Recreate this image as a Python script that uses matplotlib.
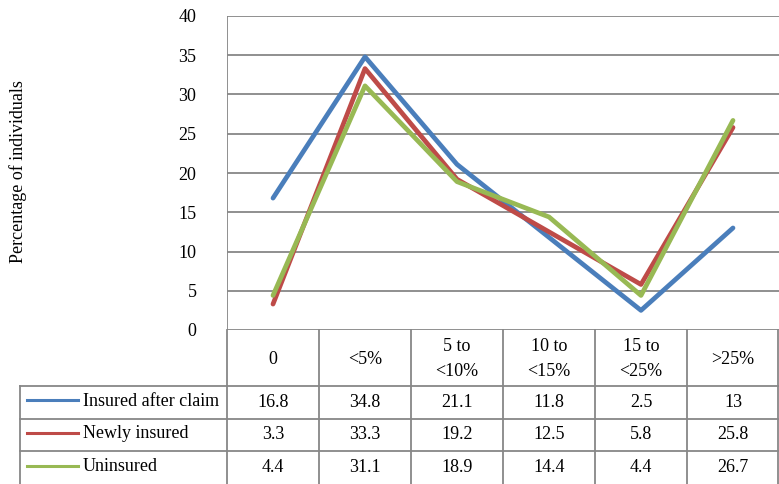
import matplotlib
matplotlib.use("Agg")
import matplotlib.pyplot as plt
from matplotlib.lines import Line2D

plt.rcParams['font.family'] = ['Liberation Serif', 'DejaVu Serif']

categories = ["0", "<5%", "5 to\n<10%", "10 to\n<15%", "15 to\n<25%", ">25%"]
series_names = ["Insured after claim", "Newly insured", "Uninsured"]
insured_after_claim = [16.8, 34.8, 21.1, 11.8, 2.5, 13]
newly_insured = [3.3, 33.3, 19.2, 12.5, 5.8, 25.8]
uninsured = [4.4, 31.1, 18.9, 14.4, 4.4, 26.7]
y_ticks = [0, 5, 10, 15, 20, 25, 30, 35, 40]

series = [insured_after_claim, newly_insured, uninsured]
colors = ["#4A7EBB", "#BE4B48", "#98B954"]
grid_c = "#878787"
FS = 13

W, H = 779, 484
fig = plt.figure(figsize=(W / 100, H / 100), dpi=100)


def fx(x):
    return x / W


def fy(y):
    return 1 - y / H


# plot area in pixels
L, R, T, B = 227, 779, 16, 330
ax = fig.add_axes([fx(L), fy(B), fx(R) - fx(L), fy(T) - fy(B)])
n = len(categories)
ax.set_xlim(-0.5, n - 0.5)
ax.set_ylim(0, 40)
for s in ax.spines.values():
    s.set_visible(False)
ax.set_xticks([])
ax.set_yticks(y_ticks)
ax.set_yticklabels([str(t) for t in y_ticks], fontsize=FS)
ax.tick_params(axis='y', length=0, pad=22)
for t in y_ticks:
    ax.axhline(t, color=grid_c, lw=1.3, zorder=1)
ax.axvline(-0.5, color=grid_c, lw=1.3, zorder=1)

xs = list(range(n))
for vals, c in zip(series, colors):
    ax.plot(xs, vals, color=c, lw=3.4, solid_joinstyle='round',
            solid_capstyle='round', zorder=3, clip_on=False)

fig.text(fx(18), fy(172), "Percentage of individuals", rotation=90,
         ha='center', va='center', fontsize=FS)

# data table below the plot
col_w = (R - L) / n
header_bottom = 386
row_bounds = [386, 418.5, 451, 484]
legend_left = 20


def hline(x0, x1, y):
    fig.add_artist(Line2D([fx(x0), fx(x1)], [fy(y), fy(y)], color=grid_c,
                          lw=1.3, transform=fig.transFigure))


def vline(x, y0, y1):
    fig.add_artist(Line2D([fx(x), fx(x)], [fy(y0), fy(y1)], color=grid_c,
                          lw=1.3, transform=fig.transFigure))


vline(L, B, H)
for i in range(1, n + 1):
    vline(L + i * col_w - (0.7 if i == n else 0), B, H)
hline(legend_left, R, header_bottom)
for y in row_bounds[1:-1]:
    hline(legend_left, R, y)
vline(legend_left, header_bottom, H)

for i, cat in enumerate(categories):
    cx = L + (i + 0.5) * col_w
    fig.text(fx(cx), fy((B + header_bottom) / 2 + 1), cat, ha='center',
             va='center', fontsize=FS, linespacing=1.55)

for r, (name, vals, c) in enumerate(zip(series_names, series, colors)):
    cy = (row_bounds[r] + row_bounds[r + 1]) / 2
    fig.add_artist(Line2D([fx(27), fx(78)], [fy(cy - 2), fy(cy - 2)], color=c,
                          lw=2.2, transform=fig.transFigure))
    fig.text(fx(83), fy(cy - 1), name, ha='left', va='center', fontsize=FS)
    for i, v in enumerate(vals):
        cx = L + (i + 0.5) * col_w
        fig.text(fx(cx), fy(cy), f"{v:g}", ha='center', va='center',
                 fontsize=FS)

fig.savefig("out.png", dpi=100)
